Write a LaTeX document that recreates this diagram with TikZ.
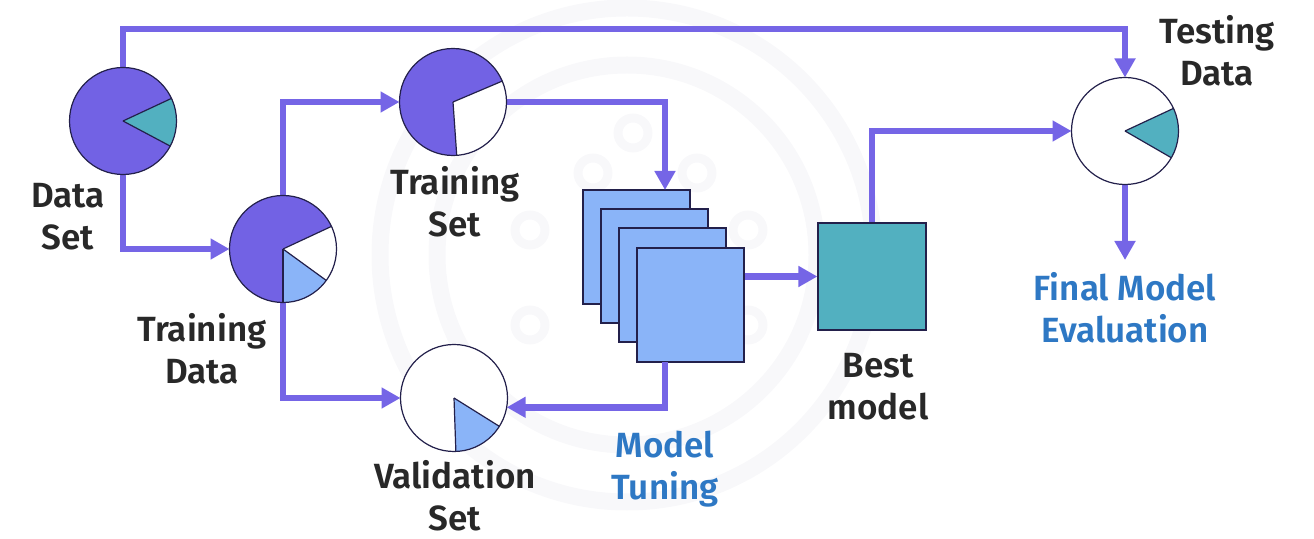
\documentclass[tikz,border=0pt]{standalone}
\usepackage{fontspec}
\setmainfont{Fira Sans}[BoldFont={Fira Sans SemiBold}]
\usetikzlibrary{arrows.meta,calc}
\definecolor{pieP}{RGB}{114,98,228}
\definecolor{arrC}{RGB}{117,101,230}
\definecolor{tealC}{RGB}{82,176,192}
\definecolor{lblue}{RGB}{138,180,248}
\definecolor{outl}{RGB}{35,32,75}
\definecolor{txtD}{RGB}{40,40,40}
\definecolor{txtB}{RGB}{46,120,196}
\definecolor{wmark}{RGB}{248,248,250}
\tikzset{
  pie/.style={circle,minimum size=107pt,inner sep=0pt,outer sep=0pt},
  arr/.style={draw=arrC,line width=6.5pt,-{Triangle[length=19pt,width=20pt]}},
  conn/.style={draw=arrC,line width=6.5pt},
  lbl/.style={align=center,inner sep=0pt,text=txtD,font=\fontsize{35}{42}\selectfont\bfseries},
  lblb/.style={lbl,text=txtB},
  sq/.style={draw=outl,line width=1.2pt,fill=lblue,minimum width=107pt,minimum height=114pt,inner sep=0pt},
  bmsq/.style={draw=outl,line width=1.2pt,fill=tealC,minimum width=108pt,minimum height=107pt,inner sep=0pt}
}
\newcommand{\pwedge}[4]{\fill[#4] (#1.center) -- ++(#2:53.5pt) arc[start angle=#2,end angle=#3,radius=53.5pt] -- cycle;}
\newcommand{\pline}[2]{\draw[outl,line width=1.2pt] (#1.center) -- ++(#2:53.5pt);}
\begin{document}
\begin{tikzpicture}[x=1pt,y=1pt]
\useasboundingbox (0,0) rectangle (1314,538);
% watermark
\draw[wmark,line width=17pt] (627,283) circle[radius=247];
\draw[wmark,line width=17pt] (627,283) circle[radius=190];
\foreach \p in {(633,405),(593,365),(697,365),(530,308),(748,308),(530,213),(748,213)}
  \draw[wmark,line width=9pt] \p circle[radius=15];
% pies
\node[pie] (ds) at (123,417) {};
\node[pie] (td) at (283,289) {};
\node[pie] (ts) at (453,436) {};
\node[pie] (vs) at (454,140) {};
\node[pie] (te) at (1125,407) {};
% stack and best model
\node[sq] (sq1) at (636.5,291) {};
\node[sq] (sq2) at (654.5,272) {};
\node[sq] (sq3) at (672.5,253) {};
\node[sq] (sq4) at (690.5,233) {};
\node[bmsq] (bm) at (872,261.5) {};
% coordinates
\coordinate (topc) at (600,509);
\coordinate (t1) at (665,348);
\coordinate (b1) at (665,176);
\coordinate (fe) at (1125,278);
% connectors
\draw[arr] (ds.north) |- (topc) -| (te.north);
\draw[arr] (ds.south) |- (td.west);
\draw[arr] (td.north) |- (ts.west);
\draw[arr] (td.south) |- (vs.west);
\draw[arr] (ts.east) -| (t1);
\draw[arr] (sq4.east |- bm.west) -- (bm.west);
\draw[arr] (b1) |- (vs.-10);
\draw[arr] (bm.north) |- (te.west);
\draw[arr] (te.south) -- (fe);
% pie fills
\fill[pieP] (ds) circle[radius=53.5];
\pwedge{ds}{-28}{25}{tealC}
\pline{ds}{-28}\pline{ds}{25}
\draw[outl,line width=1.2pt] (ds) circle[radius=53.5];
\fill[pieP] (td) circle[radius=53.5];
\pwedge{td}{-36}{25}{white}
\pwedge{td}{-90}{-36}{lblue}
\pline{td}{-90}\pline{td}{-36}\pline{td}{25}
\draw[outl,line width=1.2pt] (td) circle[radius=53.5];
\fill[pieP] (ts) circle[radius=53.5];
\pwedge{ts}{-86}{23}{white}
\pline{ts}{-86}\pline{ts}{23}
\draw[outl,line width=1.2pt] (ts) circle[radius=53.5];
\fill[white] (vs) circle[radius=53.5];
\pwedge{vs}{-88}{-32}{lblue}
\pline{vs}{-88}\pline{vs}{-32}
\draw[outl,line width=1.2pt] (vs) circle[radius=53.5];
\fill[white] (te) circle[radius=53.5];
\pwedge{te}{-30}{25}{tealC}
\pline{te}{-30}\pline{te}{25}
\draw[outl,line width=1.2pt] (te) circle[radius=53.5];
% labels
\node[lbl] (lds) at (68,321) {Data\\Set};
\node[lbl] (ltd) at (202,189) {Training\\Data};
\node[lbl] (lts) at (455,336) {Training\\Set};
\node[lbl] (lvs) at (455,42) {Validation\\Set};
\node[lblb] (lmt) at (665,69) {Model\\Tuning};
\node[lbl] (lbm) at (878,151) {Best\\model};
\node[lbl] (ltest) at (1217,487) {Testing\\Data};
\node[lblb] (lfe) at (1125,230) {Final Model\\Evaluation};
\end{tikzpicture}
\end{document}
